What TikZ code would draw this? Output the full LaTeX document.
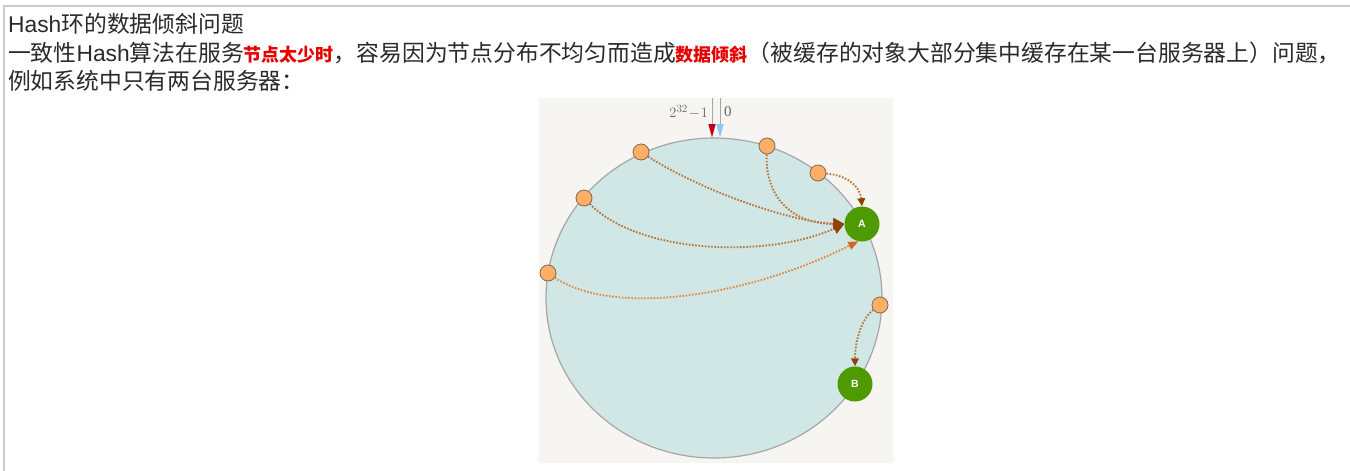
\documentclass[tikz,border=0pt]{standalone}
\usepackage{fontspec}
\setmainfont{Liberation Sans}
\newfontfamily\cjk{Noto Sans CJK SC}
\newfontfamily\labelserif{Liberation Serif}
\usetikzlibrary{arrows.meta}

\definecolor{textgray}{HTML}{2A2A2A}
\definecolor{alertred}{HTML}{E60000}
\definecolor{frameline}{HTML}{CACACA}
\definecolor{paper}{HTML}{F6F5F1}
\definecolor{ringfill}{HTML}{D0E7E6}
\definecolor{ringline}{HTML}{A6A6A6}
\definecolor{keyfill}{HTML}{FFAE66}
\definecolor{keyline}{HTML}{7E6A58}
\definecolor{servergreen}{HTML}{4F9A00}
\definecolor{mapline}{HTML}{B87438}
\definecolor{maphead}{HTML}{8E4300}
\definecolor{maplight}{HTML}{E08B3E}
\definecolor{mapheadlight}{HTML}{D2661A}
\definecolor{markred}{HTML}{C0001A}
\definecolor{markblue}{HTML}{8CC8F2}
\definecolor{labelgray}{HTML}{666666}

\tikzset{
  line/.style={anchor=base west, inner sep=0pt, text=textgray,
    font=\fontsize{22.8}{29}\selectfont},
  hashkey/.style={circle, draw=keyline, fill=keyfill, line width=0.8pt,
    minimum size=16pt, inner sep=0pt},
  server/.style={circle, fill=servergreen, text=white, inner sep=0pt,
    minimum size=35pt, font=\bfseries\fontsize{10.5}{10.5}\selectfont},
  mapping/.style={draw=mapline, line width=1.9pt, dash pattern=on 1.6pt off 1.6pt,
    -{Triangle[length=11pt,width=11pt,color=maphead]}},
  mapsmall/.style={mapping, -{Triangle[length=8pt,width=7.5pt,color=maphead]}},
  maplow/.style={mapping, draw=maplight,
    -{Triangle[length=10pt,width=8pt,color=mapheadlight]}},
}

\newcommand{\alert}[1]{{\cjk\bfseries\color{alertred}\fontsize{18}{18}\selectfont #1}}

\begin{document}
\begin{tikzpicture}[x=1pt, y=-1pt]
\useasboundingbox (0,0) rectangle (1350,471);
\fill[white] (0,0) rectangle (1350,471);

% page frame
\draw[frameline, line width=1.4pt] (4,471) -- (4,6) -- (1350,6);

% text
\node[line] (title) at (8,32) {Hash{\cjk 环的数据倾斜问题}};
\node[line] (para) at (8,61) {{\cjk 一致性}Hash{\cjk 算法在服务}\alert{节点太少时}{\cjk ，容易因为节点分布不均匀而造成}\alert{数据倾斜}{\cjk （被缓存的对象大部分集中缓存在某一台服务器上）问题，}};
\node[line] (example) at (8,89) {\cjk 例如系统中只有两台服务器：};

% the picture
\fill[paper] (539,98) rectangle (893,463);
\draw[ringline, fill=ringfill, line width=1.2pt] (714,298) ellipse [x radius=168pt, y radius=160pt];

% start of the ring
\draw[ringline, line width=0.9pt] (712,98) -- (712,126);
\draw[ringline, line width=0.9pt] (720,98) -- (720,126);
\fill[markred] (708.3,124) -- (715.7,124) -- (712,137.5) -- cycle;
\fill[markblue] (716.3,124) -- (723.7,124) -- (720,137.5) -- cycle;
\node[anchor=east, inner sep=0pt, text=labelgray] (maxlabel) at (708,112)
  {\fontsize{15}{15}\selectfont$2^{32}\!-\!1$};
\node[anchor=west, inner sep=0pt, text=labelgray] (zerolabel) at (724,112)
  {\labelserif\fontsize{15}{15}\selectfont 0};

% servers
\node[server] (A) at (862,224) {A};
\node[server] (B) at (855,384) {B};

% objects
\node[hashkey] (k1) at (641,152) {};
\node[hashkey] (k2) at (584,198) {};
\node[hashkey] (k3) at (548,273) {};
\node[hashkey] (k4) at (767,146) {};
\node[hashkey] (k5) at (818,173) {};
\node[hashkey] (k6) at (880,305) {};

% mappings
\draw[mapping] (k1) .. controls (700,190) and (790,222) .. (A.west);
\draw[mapping] (k2) .. controls (640,255) and (770,258) .. (A.west);
\draw[mapping] (k4) .. controls (765,200) and (795,224) .. (A.west);
\draw[maplow] (k3) .. controls (610,315) and (740,300) .. (A.258);
\draw[mapsmall] (k5) .. controls (845,175) and (860,185) .. (A.north);
\draw[mapsmall] (k6) .. controls (862,318) and (855,340) .. (B.north);
\end{tikzpicture}
\end{document}
